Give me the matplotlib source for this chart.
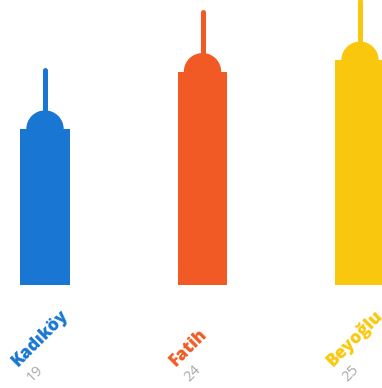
import matplotlib
matplotlib.use("Agg")
import matplotlib.pyplot as plt
from matplotlib.patches import Ellipse

plt.rcParams["font.family"] = ["Open Sans", "DejaVu Sans"]

# 数据
districts = ["Kadıköy", "Fatih", "Beyoğlu"]
values = [19, 24, 25]
colors = ["#1976d2", "#f15a24", "#f9c80e"]

# 像素 -> 数据单位
W, H = 382, 388
STEP = 157.5          # 类别间距(px)
K = 11.47             # 每单位数值的像素
BASE = 103            # 基线距底部(px)
px_x = 1 / STEP
px_y = 1 / K

fig = plt.figure(figsize=(W / 100, H / 100), dpi=100)
ax = fig.add_axes([0, 0, 1, 1])
ax.set_xlim(-45 * px_x, (W - 45) * px_x)
ax.set_ylim(-BASE * px_y, (H - BASE) * px_y)
ax.axis("off")

for i, (name, v, c) in enumerate(zip(districts, values, colors)):
    top = v - 62 * px_y
    ax.bar(i, top, width=50 * px_x, bottom=0, color=c, zorder=2)
    ax.add_patch(Ellipse((i, top), 36 * px_x, 36 * px_y, color=c, zorder=2))
    ax.plot([i, i], [top, v - 2.5 * px_y], color=c, lw=3.6,
            solid_capstyle="round", zorder=1)
    ax.text(i - 27 * px_x, -82 * px_y, name, color=c, fontsize=12.5,
            fontweight="heavy", rotation=45, rotation_mode="anchor",
            ha="left", va="baseline")
    ax.text(i - 13 * px_x, -97 * px_y, str(v), color="#aaaaaa", fontsize=10.5,
            rotation=45, rotation_mode="anchor", ha="left", va="baseline")

fig.savefig("out.png", dpi=100)
